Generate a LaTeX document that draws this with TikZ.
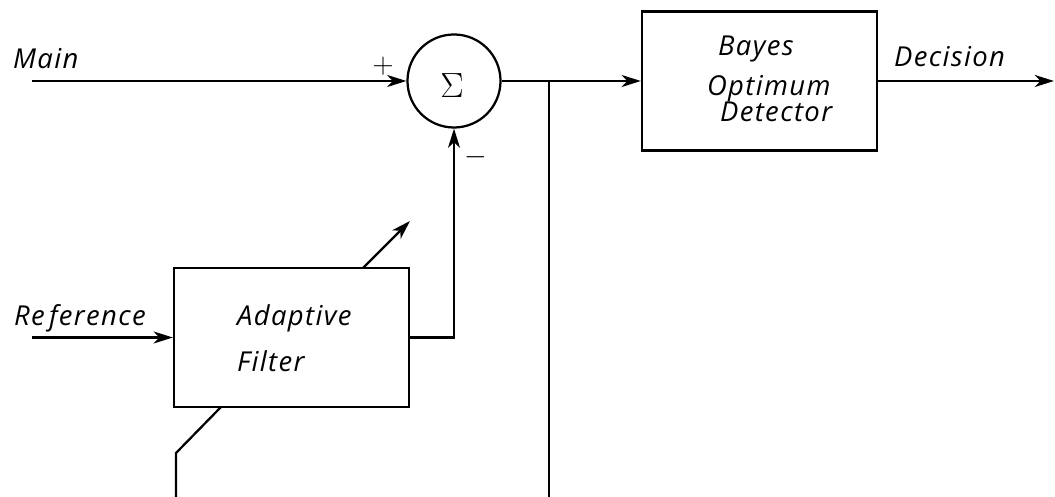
\documentclass[tikz,border=0pt]{standalone}
\usepackage{fontspec}
\setmainfont{Open Sans}
\newfontfamily\labfont{Open Sans}[LetterSpace=5]
\usetikzlibrary{arrows.meta}
\begin{document}
\begin{tikzpicture}[x=0.025cm,y=-0.025cm,
  line width=1.6pt,
  tip/.style={-{Stealth[length=4.8mm,width=3mm,inset=1.4mm]}},
  blk/.style={draw,rectangle,minimum width=5.875cm,minimum height=3.475cm,inner sep=0pt},
  lab/.style={anchor=base west,inner sep=0pt,font=\labfont\itshape\fontsize{19.5}{23}\selectfont},
  sgn/.style={inner sep=0pt,font=\fontsize{20}{22}\selectfont}]
\useasboundingbox (0,0) rectangle (1055,497);
% blocks
\node[draw,circle,minimum size=2.325cm,inner sep=0pt] (sum) at (454,81) {};
\node[sgn,font=\fontsize{24}{26}\selectfont] (sigma) at (452,86) {$\Sigma$};
\node[blk] (bayes) at (759.5,81) {};
\node[blk] (filter) at (291.5,337.5) {};
% texts
\node[lab] (tmain) at (12,69) {Main};
\node[lab] (tdec) at (893,67) {Decision};
\node[lab] (tref) at (13,326) {Re\hspace{3pt}ference};
\node[lab] (tada) at (236,326) {Adaptive};
\node[lab] (tfil) at (236,372) {Filter};
\node[lab] (tbay) at (717,56) {Bayes};
\node[lab] (topt) at (706,96) {Optimum};
\node[lab] (tdet) at (719,122) {Detector};
\node[sgn] (plus) at (383,66) {$+$};
\node[sgn] (minus) at (476,157) {$-$};
% coordinates
\coordinate (mainin) at (32,81);
\coordinate (refin) at (32,337.5);
\coordinate (decout) at (1054,81);
\coordinate (junc) at (549,81);
\coordinate (juncend) at (549,497);
\coordinate (a1) at (363,268);
\coordinate (a2) at (410,221);
\coordinate (b0) at (176,497);
\coordinate (b1) at (176,453);
\coordinate (b2) at (221,407);
% connectors
\draw[tip] (mainin) -- (sum.west);
\draw[tip] (sum.east) -- (bayes.west);
\draw[tip] (bayes.east) -- (decout);
\draw (junc) -- (juncend);
\draw[tip] (refin) -- (filter.west);
\draw[tip] (filter.east) -| (sum.south);
\draw[tip] (a1) -- (a2);
\draw (b0) -- (b1) -- (b2);
\end{tikzpicture}
\end{document}
